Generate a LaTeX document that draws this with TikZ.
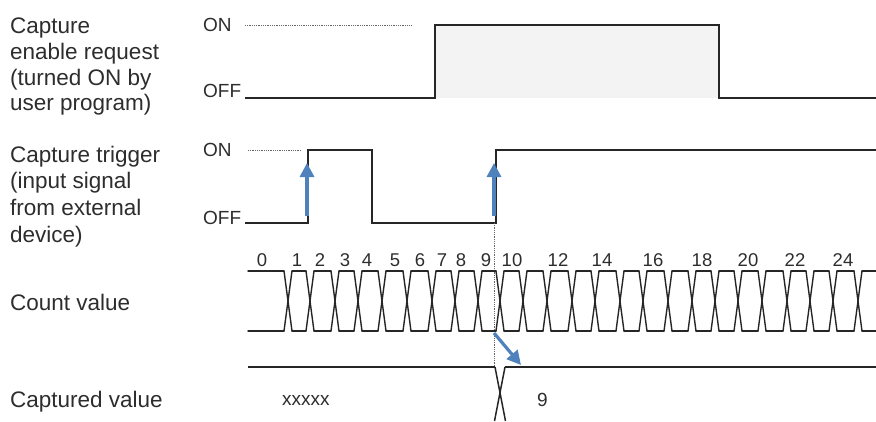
\documentclass[tikz,border=0pt]{standalone}
\usepackage{fontspec}
\setmainfont{Liberation Sans}
\usetikzlibrary{arrows.meta}
\definecolor{sigblue}{RGB}{79,129,189}
\definecolor{txt}{RGB}{45,45,45}
\definecolor{fillgray}{RGB}{243,243,243}
\begin{document}
\begin{tikzpicture}[x=1pt,y=-1pt,
  sig/.style={line width=1.5pt, black!85, line join=miter},
  bus/.style={line width=1.4pt, black!85, line cap=round},
  guide/.style={line width=0.6pt, black!60, dash pattern=on 1pt off 0.8pt},
  bluearrow/.style={line width=3.2pt, sigblue, -{Triangle[length=14pt 0 0,width=14pt 0 0]}},
  lbl/.style={font=\fontsize{22.5}{26}\selectfont, text=txt, inner sep=0pt, anchor=base west},
  lvl/.style={font=\fontsize{19}{22}\selectfont, text=txt, inner sep=0pt},
  num/.style={font=\fontsize{18.5}{22}\selectfont, text=txt, inner sep=0pt, anchor=base}]
\useasboundingbox (0,0) rectangle (876,421);

% left labels
\node[lbl] (a1) at (10,33) {Capture};
\node[lbl] (a2) at (10,59) {enable request};
\node[lbl] (a3) at (10,85) {(turned ON by};
\node[lbl] (a4) at (10,110) {user program)};
\node[lbl] (b1) at (10,162) {Capture trigger};
\node[lbl] (b2) at (10,188) {(input signal};
\node[lbl] (b3) at (10,215) {from external};
\node[lbl] (b4) at (10,242) {device)};
\node[lbl] (c1) at (10,310) {Count value};
\node[lbl] (d1) at (10,407) {Captured value};

% level labels
\node[lvl, anchor=west] (on1) at (203,25) {ON};
\node[lvl, anchor=base west] (off1) at (203,97) {OFF};
\node[lvl, anchor=west] (on2) at (203,150) {ON};
\node[lvl, anchor=base west] (off2) at (203,224) {OFF};

% row 1: capture enable request
\fill[fillgray] (435,25) rectangle (719,98);
\draw[guide] (245,25) -- (411,25);
\draw[sig] (245,98) -- (435,98) -- (435,25) -- (719,25) -- (719,98) -- (876,98);

% row 2: capture trigger
\draw[guide] (248,150) -- (301,150);
\draw[sig] (245,223) -- (308,223) -- (308,150) -- (372,150) -- (372,223) -- (496,223) -- (496,150) -- (876,150);
\draw[guide] (494,223) -- (494,366);
\draw[bluearrow] (307,216) -- (307,163);
\draw[bluearrow] (494,216) -- (494,163);

% row 3: count value
\def\xs{288,310,335,358,382,407,432,455,478,500,523,547,572,595,620,643,668,692,715,738,762,787,810,833,858}
\foreach \x [remember=\x as \px (initially 244)] in \xs {
  \draw[bus] (\px+4,271) -- (\x-4,271);
  \draw[bus] (\px+4,331) -- (\x-4,331);
  \draw[bus] (\x-4,271) -- (\x+4,331);
  \draw[bus] (\x-4,331) -- (\x+4,271);
}
\draw[bus] (862,271) -- (876,271);
\draw[bus] (862,331) -- (876,331);

\node[num] (n0) at (262,266) {0};
\node[num] (n1) at (297,266) {1};
\node[num] (n2) at (320,266) {2};
\node[num] (n3) at (345,266) {3};
\node[num] (n4) at (367,266) {4};
\node[num] (n5) at (395,266) {5};
\node[num] (n6) at (420,266) {6};
\node[num] (n7) at (442,266) {7};
\node[num] (n8) at (461,266) {8};
\node[num] (n9) at (486,266) {9};
\node[num] (n10) at (512,266) {10};
\node[num] (n12) at (558,266) {12};
\node[num] (n14) at (602,266) {14};
\node[num] (n16) at (653,266) {16};
\node[num] (n18) at (702,266) {18};
\node[num] (n20) at (748,266) {20};
\node[num] (n22) at (795,266) {22};
\node[num] (n24) at (843,266) {24};

% row 4: captured value
\draw[sig] (248,367) -- (495,367);
\draw[sig] (495,367) -- (505.5,421);
\draw[sig] (505,367) -- (494.5,421);
\draw[sig] (505,367) -- (876,367);
\draw[bluearrow] (494,333) -- (521,365);
\node[num, anchor=base west, font=\fontsize{19}{22}\selectfont] (xv) at (282,405) {xxxxx};
\node[num, anchor=base west, font=\fontsize{19}{22}\selectfont] (nv) at (537,406) {9};
\end{tikzpicture}
\end{document}
